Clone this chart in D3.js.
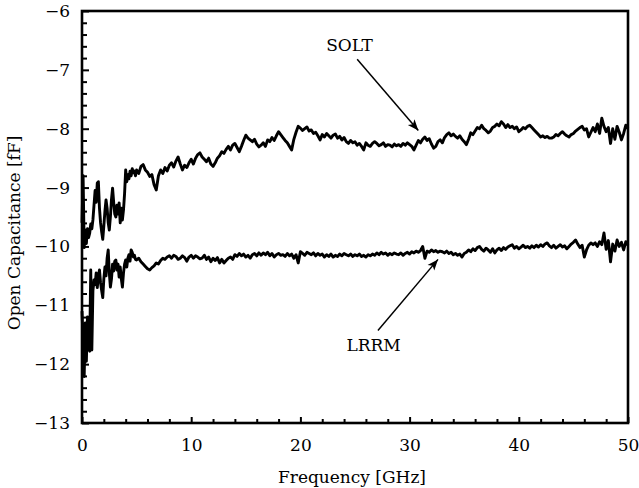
<!DOCTYPE html>
<html>
<head>
<meta charset="utf-8">
<script src="https://cdn.jsdelivr.net/npm/d3@7"></script>
<style>
  body { margin: 0; background: #fff; }
  svg { display: block; }
  svg text { font-family: "DejaVu Serif", "Liberation Serif", serif; fill: #000; }
</style>
</head>
<body>
<svg id="chart" width="639" height="488"></svg>
<script>
// Frequency sweep: 0.0–4.9 GHz at 0.1 GHz, then 5.0–50.0 GHz at 0.2 GHz
const lowBandGHz = d3.range(0, 50).map(i => +(i * 0.1).toFixed(1));
const highBandGHz = d3.range(0, 226).map(i => +(5 + i * 0.2).toFixed(1));

// Open-standard capacitance [fF] after SOLT calibration
const soltLow = [
  -9.60, -8.80, -10.02, -9.72, -9.95, -9.70, -9.85, -9.78, -9.62, -9.70,
  -9.55, -9.30, -9.05, -9.25, -8.92, -8.90, -9.35, -9.60, -9.75, -9.88,
  -9.65, -9.40, -9.21, -9.35, -9.60, -9.72, -9.50, -9.20, -9.01, -9.25,
  -9.45, -9.50, -9.30, -9.45, -9.26, -9.60, -9.35, -9.55, -9.38, -9.10,
  -8.70, -8.90, -8.78, -8.85, -8.72, -8.80, -8.68, -8.75, -8.72, -8.80
];
const soltHigh = [
  -8.70, -8.76, -8.64, -8.61, -8.70, -8.74, -8.81, -8.78, -8.95, -9.04,
  -8.80, -8.70, -8.76, -8.66, -8.72, -8.62, -8.58, -8.65, -8.55, -8.48,
  -8.60, -8.70, -8.62, -8.66, -8.58, -8.52, -8.60, -8.50, -8.44, -8.41,
  -8.48, -8.52, -8.56, -8.50, -8.60, -8.64, -8.58, -8.50, -8.46, -8.39,
  -8.42, -8.35, -8.30, -8.36, -8.28, -8.25, -8.32, -8.39, -8.30, -8.20,
  -8.11, -8.16, -8.19, -8.22, -8.18, -8.26, -8.31, -8.28, -8.24, -8.30,
  -8.19, -8.22, -8.15, -8.20, -8.12, -8.05, -8.10, -8.15, -8.20, -8.24,
  -8.30, -8.36, -8.18, -8.06, -7.96, -7.99, -8.03, -8.00, -7.97, -8.04,
  -8.02, -8.08, -8.06, -8.12, -8.19, -8.10, -8.14, -8.08, -8.12, -8.16,
  -8.11, -8.09, -8.16, -8.13, -8.19, -8.15, -8.22, -8.25, -8.20, -8.24,
  -8.22, -8.28, -8.25, -8.30, -8.36, -8.24, -8.28, -8.30, -8.25, -8.22,
  -8.25, -8.29, -8.27, -8.24, -8.30, -8.27, -8.28, -8.31, -8.26, -8.29,
  -8.27, -8.30, -8.25, -8.28, -8.24, -8.27, -8.30, -8.36, -8.28, -8.20,
  -8.24, -8.18, -8.14, -8.20, -8.17, -8.26, -8.33, -8.30, -8.22, -8.19,
  -8.24, -8.15, -8.10, -8.07, -8.12, -8.09, -8.13, -8.16, -8.12, -8.18,
  -8.22, -8.27, -8.18, -8.07, -8.10, -8.04, -7.98, -8.00, -7.94, -8.00,
  -8.03, -8.07, -8.04, -7.98, -7.96, -7.92, -7.95, -7.88, -7.92, -7.98,
  -7.93, -7.98, -7.96, -8.00, -7.97, -8.05, -8.02, -7.98, -8.00, -7.96,
  -7.94, -7.98, -8.02, -8.06, -8.10, -8.14, -8.12, -8.15, -8.13, -8.16,
  -8.16, -8.14, -8.10, -8.12, -8.08, -8.05, -8.09, -8.12, -8.14, -8.10,
  -8.08, -8.04, -8.01, -7.98, -7.96, -8.02, -8.00, -8.14, -8.06, -7.98,
  -8.05, -7.92, -8.08, -7.82, -7.96, -8.05, -7.98, -8.25, -8.00, -8.18,
  -7.96, -8.06, -8.19, -8.08, -7.94, -8.00
];

// Open-standard capacitance [fF] after LRRM calibration
const lrrmLow = [
  -11.10, -11.60, -12.21, -11.30, -11.95, -11.20, -11.70, -11.78, -10.40, -11.76,
  -10.75, -10.57, -10.65, -10.45, -10.70, -10.50, -10.40, -10.62, -10.75, -10.87,
  -10.55, -10.35, -10.50, -10.20, -10.06, -10.45, -10.69, -10.55, -10.30, -10.42,
  -10.25, -10.23, -10.40, -10.30, -10.52, -10.35, -10.55, -10.69, -10.45, -10.30,
  -10.23, -10.35, -10.20, -10.14, -10.25, -10.06, -10.10, -10.18, -10.15, -10.22
];
const lrrmHigh = [
  -10.23, -10.20, -10.26, -10.30, -10.34, -10.38, -10.40, -10.36, -10.33, -10.28,
  -10.30, -10.24, -10.20, -10.22, -10.18, -10.16, -10.20, -10.15, -10.17, -10.22,
  -10.20, -10.16, -10.19, -10.25, -10.18, -10.15, -10.20, -10.16, -10.18, -10.21,
  -10.20, -10.15, -10.22, -10.18, -10.26, -10.20, -10.24, -10.19, -10.28, -10.22,
  -10.28, -10.24, -10.20, -10.18, -10.22, -10.14, -10.17, -10.12, -10.16, -10.13,
  -10.18, -10.15, -10.20, -10.14, -10.12, -10.16, -10.11, -10.15, -10.11, -10.14,
  -10.10, -10.16, -10.12, -10.18, -10.14, -10.12, -10.15, -10.14, -10.17, -10.12,
  -10.16, -10.13, -10.20, -10.14, -10.28, -10.09, -10.12, -10.15, -10.10, -10.12,
  -10.14, -10.11, -10.16, -10.12, -10.15, -10.13, -10.18, -10.14, -10.17, -10.13,
  -10.18, -10.15, -10.17, -10.13, -10.16, -10.12, -10.14, -10.16, -10.13, -10.17,
  -10.14, -10.16, -10.13, -10.17, -10.15, -10.18, -10.14, -10.16, -10.13, -10.15,
  -10.11, -10.14, -10.10, -10.13, -10.11, -10.15, -10.12, -10.14, -10.11, -10.13,
  -10.14, -10.11, -10.15, -10.12, -10.10, -10.13, -10.09, -10.11, -10.08, -10.10,
  -10.07, -10.00, -10.20, -10.08, -10.10, -10.06, -10.09, -10.07, -10.10, -10.08,
  -10.09, -10.11, -10.08, -10.12, -10.10, -10.14, -10.12, -10.15, -10.13, -10.18,
  -10.12, -10.10, -10.06, -10.09, -10.04, -10.07, -10.02, -10.00, -10.05, -10.08,
  -10.03, -10.06, -10.10, -10.04, -10.11, -10.06, -10.03, -10.07, -10.02, -10.05,
  -10.01, -9.99, -9.97, -10.03, -10.00, -10.04, -10.01, -9.98, -10.02, -10.00,
  -10.03, -9.99, -10.02, -9.98, -10.01, -9.97, -10.00, -9.96, -9.94, -9.99,
  -10.02, -9.98, -10.03, -10.00, -9.97, -10.01, -9.99, -10.04, -10.00, -9.96,
  -9.93, -9.89, -9.96, -10.02, -9.98, -10.18, -10.06, -9.98, -9.94, -9.97,
  -9.94, -10.00, -9.92, -9.97, -9.77, -10.05, -9.90, -10.26, -9.96, -10.08,
  -9.89, -10.00, -9.93, -10.06, -9.92, -9.98
];

const xMajorTicks = [0, 10, 20, 30, 40, 50];
const yMajorTicks = [-13, -12, -11, -10, -9, -8, -7, -6];

// Callout labels: text anchor, arrow tail and arrow head in data units [GHz, fF]
const callouts = [
  { label: "SOLT", text: [24.5, -6.58], tail: [25.2, -6.82], head: [30.8, -8.03] },
  { label: "LRRM", text: [26.7, -11.68], tail: [27.1, -11.43], head: [32.6, -10.22] }
];

const svg = d3.select("#chart");
const margin = { left: 82, right: 11, top: 11, bottom: 65 };
const W = 639, H = 488;
const FONT = "DejaVu Serif";

const x = d3.scaleLinear().domain([0, 50]).range([margin.left, W - margin.right]);
const y = d3.scaleLinear().domain([-13, -6]).range([H - margin.bottom, margin.top]);

const zip = (fs, vs) => fs.map((f, i) => ({ f, v: vs[i] }));
const soltData = zip(lowBandGHz, soltLow).concat(zip(highBandGHz, soltHigh));
const lrrmData = zip(lowBandGHz, lrrmLow).concat(zip(highBandGHz, lrrmHigh));

const line = d3.line().x(d => x(d.f)).y(d => y(d.v));

// curves
[soltData, lrrmData].forEach(data => {
  svg.append("path")
    .datum(data)
    .attr("d", line)
    .attr("fill", "none")
    .attr("stroke", "#000")
    .attr("stroke-width", 2.9)
    .attr("stroke-linejoin", "round");
});

// minor ticks (inward)
const xMinor = d3.range(0, 51, 2).filter(v => !xMajorTicks.includes(v));
const yMinor = d3.range(-130, -59, 2).map(v => v / 10).filter(v => !yMajorTicks.includes(v));

svg.append("g")
  .attr("transform", `translate(0,${y(-13)})`)
  .call(d3.axisBottom(x).tickValues(xMinor).tickSize(-4).tickFormat(""))
  .call(g => g.select(".domain").remove())
  .call(g => g.selectAll("line").attr("stroke-width", 2));

svg.append("g")
  .attr("transform", `translate(${x(0)},0)`)
  .call(d3.axisLeft(y).tickValues(yMinor).tickSize(-5).tickFormat(""))
  .call(g => g.select(".domain").remove())
  .call(g => g.selectAll("line").attr("stroke-width", 2));

// major ticks and labels
svg.append("g")
  .attr("font-family", FONT)
  .attr("transform", `translate(0,${y(-13)})`)
  .call(d3.axisBottom(x).tickValues(xMajorTicks).tickSize(-6).tickPadding(16).tickFormat(d3.format("d")))
  .call(g => g.select(".domain").remove())
  .call(g => g.selectAll("line").attr("stroke-width", 2))
  .call(g => g.selectAll("text").attr("font-size", 17));

svg.append("g")
  .attr("font-family", FONT)
  .attr("transform", `translate(${x(0)},0)`)
  .call(d3.axisLeft(y).tickValues(yMajorTicks).tickSize(-7).tickPadding(12).tickFormat(d3.format("d")))
  .call(g => g.select(".domain").remove())
  .call(g => g.selectAll("line").attr("stroke-width", 2))
  .call(g => g.selectAll("text").attr("font-size", 17));

// frame
svg.append("rect")
  .attr("x", x(0)).attr("y", y(-6))
  .attr("width", x(50) - x(0)).attr("height", y(-13) - y(-6))
  .attr("fill", "none").attr("stroke", "#000").attr("stroke-width", 2.6);

// axis titles
svg.append("text")
  .attr("x", 352).attr("y", 483)
  .attr("text-anchor", "middle").attr("font-size", 17)
  .text("Frequency [GHz]");

svg.append("text")
  .attr("transform", "translate(20,233) rotate(-90)")
  .attr("text-anchor", "middle").attr("font-size", 17)
  .text("Open Capacitance [fF]");

// callout arrows
svg.append("defs").append("marker")
  .attr("id", "arrowhead")
  .attr("viewBox", "0 0 10 10").attr("refX", 10).attr("refY", 5)
  .attr("markerWidth", 11).attr("markerHeight", 11)
  .attr("markerUnits", "userSpaceOnUse")
  .attr("orient", "auto")
  .append("path").attr("d", "M0,1 L10,5 L0,9 L2.5,5 Z").attr("fill", "#000");

callouts.forEach(c => {
  svg.append("line")
    .attr("x1", x(c.tail[0])).attr("y1", y(c.tail[1]))
    .attr("x2", x(c.head[0])).attr("y2", y(c.head[1]))
    .attr("stroke", "#000").attr("stroke-width", 1.5)
    .attr("marker-end", "url(#arrowhead)");
  svg.append("text")
    .attr("x", x(c.text[0])).attr("y", y(c.text[1]))
    .attr("text-anchor", "middle").attr("dominant-baseline", "central")
    .attr("font-size", 17)
    .text(c.label);
});
</script>
</body>
</html>
